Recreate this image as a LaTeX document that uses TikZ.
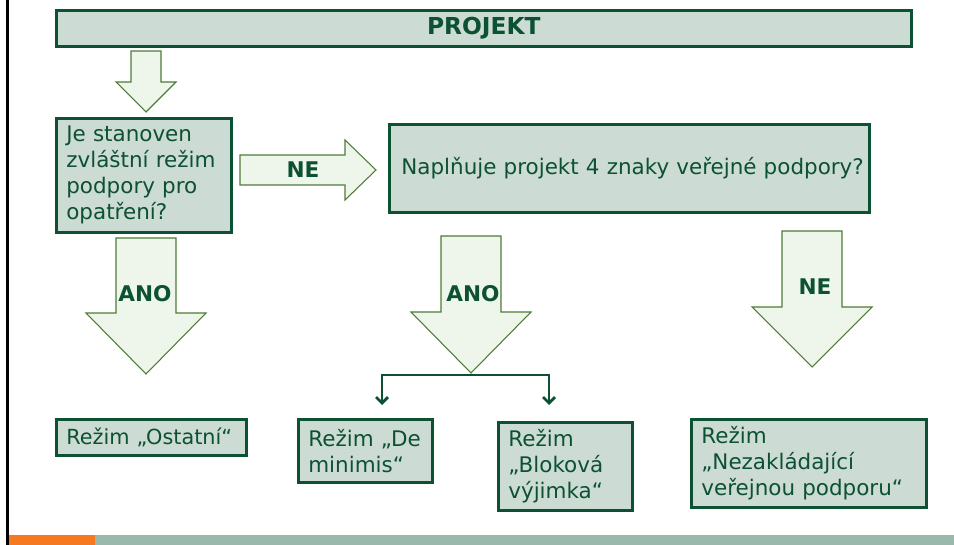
\documentclass[tikz,border=0pt]{standalone}
\usepackage{fontspec}
\setmainfont{DejaVu Sans}
\usetikzlibrary{arrows.meta}
\definecolor{boxfill}{HTML}{CDDBD5}
\definecolor{boxline}{HTML}{0B5132}
\definecolor{darktext}{HTML}{0B5132}
\definecolor{arrowfill}{HTML}{EEF5EA}
\definecolor{arrowline}{HTML}{4E7D36}
\definecolor{barorange}{HTML}{F47920}
\definecolor{bargray}{HTML}{9BB8AC}
% big block arrows: centre, start, shaft end, tip, half shaft, half head
\newcommand{\bigdown}[6]{\draw[bigarrow] ({#1-#5},#2) -- ({#1+#5},#2) -- ({#1+#5},#3) -- ({#1+#6},#3) -- (#1,#4) -- ({#1-#6},#3) -- ({#1-#5},#3) -- cycle;}
\newcommand{\bigright}[6]{\draw[bigarrow] (#2,{#1-#5}) -- (#2,{#1+#5}) -- (#3,{#1+#5}) -- (#3,{#1+#6}) -- (#4,#1) -- (#3,{#1-#6}) -- (#3,{#1-#5}) -- cycle;}
\tikzset{
  box/.style={draw=boxline,fill=boxfill,line width=2pt,anchor=north west,align=left,inner xsep=7.5pt,inner ysep=2pt,text=darktext,font=\fontsize{16.1}{19.5}\selectfont},
  bigarrow/.style={draw=arrowline,fill=arrowfill,line width=0.8pt,line join=miter},
  answer/.style={text=darktext,font=\fontsize{16.2}{19.5}\selectfont\bfseries},
  branch/.style={draw=boxline,line width=2.2pt,-{Straight Barb[length=4.5pt,width=9pt,line width=2pt]}}
}
\begin{document}
\begin{tikzpicture}[x=0.75pt,y=-0.75pt]
\useasboundingbox (0,0) rectangle (954,545);
\fill[black] (6,0) rectangle (9,545);
\fill[barorange] (9,535) rectangle (95,545);
\fill[bargray] (95,535) rectangle (954,545);

\node[box,align=center,text width=626.25pt,minimum height=27pt,font=\fontsize{17.5}{19.5}\selectfont\bfseries](project) at (55,9){PROJEKT};
\bigdown{146}{51}{82}{112}{15}{30}
\node[box,text width=116.25pt,minimum height=85.5pt](special) at (55,117){\mbox{Je stanoven}\\\mbox{zvláštní režim}\\\mbox{podpory pro}\\\mbox{opatření?}};
\bigright{170}{240}{345}{376}{15}{30}
\node[answer](ne1) at (303,170){NE};
\node[box,inner xsep=9pt,text width=342pt,minimum height=66pt](features) at (388,123){\mbox{Naplňuje projekt 4 znaky veřejné podpory?}};

\bigdown{146}{238}{313}{374}{30}{60}
\node[answer](ano1) at (145,294){ANO};
\bigdown{471}{236}{312}{373}{30}{60}
\node[answer](ano2) at (473,294){ANO};
\bigdown{812}{231}{307}{367}{30}{60}
\node[answer](ne2) at (815,287){NE};

\coordinate (split) at (471,375);
\coordinate (dmend) at (382,405);
\coordinate (bvend) at (549,405);
\draw[branch] (split) -| (dmend);
\draw[branch] (split) -| (bvend);

\node[box,text width=127.5pt,minimum height=27pt,font=\fontsize{15.6}{19.5}\selectfont](other) at (55,418){\mbox{Režim „Ostatní“}};
\node[box,text width=85.5pt,minimum height=47.25pt](deminimis) at (297,418){Režim „De\\minimis“};
\node[box,text width=85.5pt,minimum height=66pt](block) at (497,421){Režim\\„Bloková\\výjimka“};
\node[box,text width=161.25pt,minimum height=66pt](nonaid) at (690,418){Režim\\„Nezakládající\\\mbox{veřejnou podporu“}};
\end{tikzpicture}
\end{document}
